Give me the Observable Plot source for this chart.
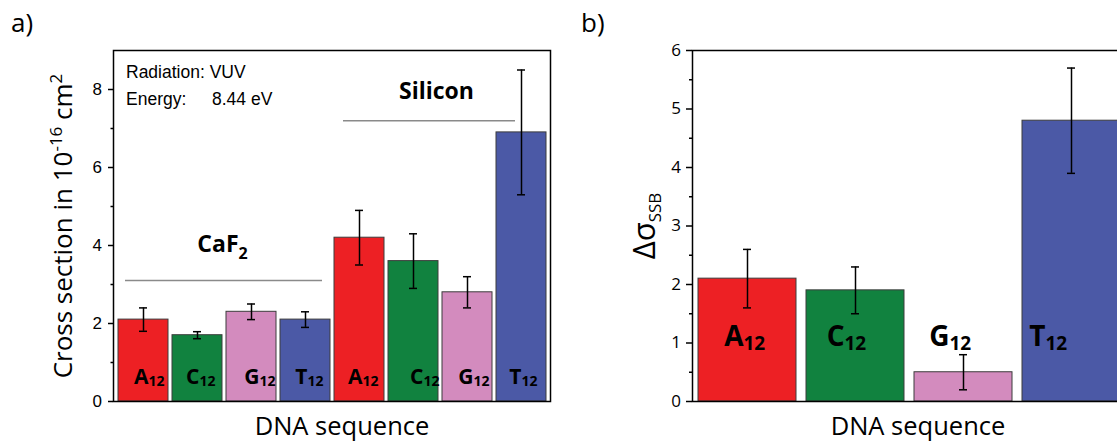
<!DOCTYPE html>
<html><head><meta charset="utf-8">
<script src="https://cdn.jsdelivr.net/npm/d3@7"></script>
<script src="https://cdn.jsdelivr.net/npm/@observablehq/plot@0.6"></script>
<style>
html,body{margin:0;padding:0;background:#fff;overflow:hidden;}
#wrap{position:relative;width:1117px;height:441px;overflow:hidden;background:#fff;}
.panel{position:absolute;top:0;}
.tag{position:absolute;font-family:"Open Sans";font-size:26px;line-height:26px;color:#000;}
</style></head><body>
<div id="wrap">
  <div id="pa" class="panel" style="left:0;width:560px"></div>
  <div id="pb" class="panel" style="left:560px;width:566px"></div>
  <div class="tag" style="left:11px;top:9px">a)</div>
  <div class="tag" style="left:581px;top:9px">b)</div>
</div>
<script>
// ---------- data ----------
const substratesA = ["CaF2","CaF2","CaF2","CaF2","Silicon","Silicon","Silicon","Silicon"];
const basesA = ["A","C","G","T","A","C","G","T"];
const crossSection = [2.1, 1.7, 2.3, 2.1, 4.2, 3.6, 2.8, 6.9];
const crossSectionErr = [0.3, 0.09, 0.2, 0.2, 0.7, 0.7, 0.4, 1.6];

const basesB = ["A","C","G","T"];
const deltaSigma = [2.1, 1.9, 0.5, 4.8];
const deltaSigmaErr = [0.5, 0.4, 0.3, 0.9];

const baseSubscript = "12";
const groupNames = ["CaF2","Silicon"];
const groupMain = ["CaF","Silicon"];
const groupSub = ["2",""];
const groupLineY = [3.1, 7.2];
const groupTextY = [3.84, 7.76];
const yTicksA = [0,2,4,6,8];
const yMinorA = [1,3,5,7];
const yTicksB = [0,1,2,3,4,5,6];
const yMinorB = [0.5,1.5,2.5,3.5,4.5,5.5];
const infoLines = ["Radiation: VUV", "Energy:"];
const infoValue = "8.44 eV";

// ---------- styles ----------
const baseColors = ["#ED2024", "#11823F", "#D38BBE", "#4B59A6"];
const splitA = [5, 2, 8, 2, 3, 10, 6, 0];
const splitB = [-4, -11, -14, -26];

const rowsA = basesA.map((b, i) => ({
  key: substratesA[i] + " " + b, base: b, v: crossSection[i],
  lo: crossSection[i] - crossSectionErr[i], hi: crossSection[i] + crossSectionErr[i]
}));
const rowsB = basesB.map((b, i) => ({
  key: b, base: b, v: deltaSigma[i],
  lo: deltaSigma[i] - deltaSigmaErr[i], hi: deltaSigma[i] + deltaSigmaErr[i]
}));

function barLabels(rows, split, dyMain, dySub, sizeMain, sizeSub) {
  const marks = [];
  rows.forEach((r, i) => {
    marks.push(Plot.text([r], {x: "key", y: () => 0, text: "base", textAnchor: "end", lineAnchor: "bottom",
      dx: split[i], dy: dyMain, fontSize: sizeMain, fontWeight: 700, fontFamily: "Open Sans", fill: "#000"}));
    marks.push(Plot.text([r], {x: "key", y: () => 0, text: () => baseSubscript, textAnchor: "start", lineAnchor: "bottom",
      dx: split[i], dy: dySub, fontSize: sizeSub, fontWeight: 700, fontFamily: "Open Sans", fill: "#000"}));
  });
  return marks;
}

const groups = groupNames.map((g, i) => ({
  name: g, main: groupMain[i], sub: groupSub[i], lineY: groupLineY[i], textY: groupTextY[i],
  first: g + " A", last: g + " T", mid: g + " C"
}));

const plotA = Plot.plot({
  width: 560, height: 441,
  marginLeft: 113, marginRight: 10, marginTop: 50, marginBottom: 40,
  style: {background: "transparent", overflow: "visible", maxWidth: "none", fontFamily: "Open Sans"},
  x: {type: "band", domain: rowsA.map(d => d.key), paddingInner: 0.08, paddingOuter: 0.06},
  y: {domain: [0, 9]},
  color: {domain: basesB, range: baseColors},
  marks: [
    Plot.barY(rowsA, {x: "key", y: "v", fill: "base", stroke: "#3c3c3c", strokeWidth: 1}),
    Plot.ruleX(rowsA, {x: "key", y1: "lo", y2: "hi", stroke: "#000", strokeWidth: 1.5}),
    Plot.tickY(rowsA, {x: "key", y: "lo", insetLeft: 21, insetRight: 21, stroke: "#000", strokeWidth: 1.5}),
    Plot.tickY(rowsA, {x: "key", y: "hi", insetLeft: 21, insetRight: 21, stroke: "#000", strokeWidth: 1.5}),
    Plot.ruleY([groups[0]], {y: "lineY", x1: "first", x2: "last", insetLeft: 7, insetRight: 8, stroke: "#8a8a8a", strokeWidth: 1.5}),
    Plot.ruleY([groups[1]], {y: "lineY", x1: "first", x2: "last", insetLeft: 9, insetRight: 31, stroke: "#8a8a8a", strokeWidth: 1.5}),
    Plot.text([groups[0]], {x: "mid", y: "textY", text: "main", textAnchor: "end", lineAnchor: "bottom", dx: 41, fontSize: 23, fontWeight: 700, fontFamily: "Open Sans", fill: "#000"}),
    Plot.text([groups[0]], {x: "mid", y: "textY", text: "sub", textAnchor: "start", lineAnchor: "bottom", dx: 41, dy: 7, fontSize: 16, fontWeight: 700, fontFamily: "Open Sans", fill: "#000"}),
    Plot.text([groups[1]], {x: "mid", y: "textY", text: "main", textAnchor: "middle", lineAnchor: "bottom", dx: 23, fontSize: 23, fontWeight: 700, fontFamily: "Open Sans", fill: "#000"}),
    ...barLabels(rowsA, splitA, -18, -16, 21, 14),
    Plot.text([infoLines[0]], {frameAnchor: "top-left", text: d => d, textAnchor: "start", lineAnchor: "bottom", dx: 12.5, dy: 27, fontSize: 17.5, fontFamily: "Liberation Sans", fill: "#000"}),
    Plot.text([infoLines[1]], {frameAnchor: "top-left", text: d => d, textAnchor: "start", lineAnchor: "bottom", dx: 12.5, dy: 54, fontSize: 17.5, fontFamily: "Liberation Sans", fill: "#000"}),
    Plot.text([infoValue], {frameAnchor: "top-left", text: d => d, textAnchor: "start", lineAnchor: "bottom", dx: 98.5, dy: 54, fontSize: 17.5, fontFamily: "Liberation Sans", fill: "#000"}),
    Plot.frame({stroke: "#000", strokeWidth: 1.5}),
    Plot.axisY({ticks: yTicksA, tickSize: 5, tickPadding: 6.5, strokeWidth: 1.5, fontSize: 17, fontFamily: "Liberation Sans",
      tickFormat: d => String(d), label: "Cross section in 10-16 cm2", labelAnchor: "center", labelOffset: 60}),
    Plot.axisY({ticks: yMinorA, tickSize: 2.5, strokeWidth: 1.5, tickFormat: () => "", label: null}),
    Plot.axisX({ticks: [], tickSize: 0, label: "DNA sequence", labelAnchor: "center", labelOffset: 33, fontSize: 25.5, fontFamily: "Open Sans"})
  ]
});
document.getElementById("pa").appendChild(plotA);

const plotB = Plot.plot({
  width: 566, height: 441,
  marginLeft: 132, marginRight: 0, marginTop: 50, marginBottom: 40,
  style: {background: "transparent", overflow: "visible", maxWidth: "none", fontFamily: "Open Sans"},
  x: {type: "band", domain: rowsB.map(d => d.key), paddingInner: 0.097, paddingOuter: 0.046},
  y: {domain: [0, 6]},
  color: {domain: basesB, range: baseColors},
  marks: [
    Plot.barY(rowsB, {x: "key", y: "v", fill: "base", stroke: "#3c3c3c", strokeWidth: 1}),
    Plot.ruleX(rowsB, {x: "key", y1: "lo", y2: "hi", stroke: "#000", strokeWidth: 1.5}),
    Plot.tickY(rowsB, {x: "key", y: "lo", insetLeft: 45, insetRight: 45, stroke: "#000", strokeWidth: 1.5}),
    Plot.tickY(rowsB, {x: "key", y: "hi", insetLeft: 45, insetRight: 45, stroke: "#000", strokeWidth: 1.5}),
    ...barLabels(rowsB, splitB, -56, -52, 28, 19),
    Plot.frame({stroke: "#000", strokeWidth: 1.5}),
    Plot.axisY({ticks: yTicksB, tickSize: 6, tickPadding: 5.5, strokeWidth: 1.5, fontSize: 17, fontFamily: "Open Sans",
      tickFormat: d => String(d), label: "Δσ SSB", labelAnchor: "center", labelOffset: 60}),
    Plot.axisY({ticks: yMinorB, tickSize: 3, strokeWidth: 1.5, tickFormat: () => "", label: null}),
    Plot.axisX({ticks: [], tickSize: 0, label: "DNA sequence", labelAnchor: "center", labelOffset: 33, fontSize: 25.5, fontFamily: "Open Sans"})
  ]
});
document.getElementById("pb").appendChild(plotB);

// ---------- rich axis labels ----------
const SVGNS = "http://www.w3.org/2000/svg";
function richLabel(svg, parts, size) {
  const t = svg.querySelector('g[aria-label="y-axis label"] text');
  if (!t) return;
  t.textContent = "";
  t.setAttribute("font-size", size);
  t.setAttribute("font-family", "Open Sans");
  let shift = 0;
  for (const p of parts) {
    const ts = document.createElementNS(SVGNS, "tspan");
    ts.textContent = p.text;
    ts.setAttribute("font-size", p.size);
    const target = p.shift || 0;
    if (target - shift !== 0) ts.setAttribute("dy", target - shift);
    shift = target;
    t.appendChild(ts);
  }
}
richLabel(plotA, [
  {text: "Cross section in 10", size: 26},
  {text: "-16", size: 17, shift: -10},
  {text: "\u00a0cm", size: 26, shift: 0},
  {text: "2", size: 17, shift: -10}
], 26);
richLabel(plotB, [
  {text: "Δσ", size: 31},
  {text: "SSB", size: 17, shift: 6}
], 31);
function shiftX(svg, dx) {
  const g = svg.querySelector('g[aria-label="x-axis label"]');
  if (!g) return;
  g.setAttribute("transform", (g.getAttribute("transform") || "") + ` translate(${dx},0)`);
}
shiftX(plotA, 10);
shiftX(plotB, 8.5);
</script>
</body></html>
